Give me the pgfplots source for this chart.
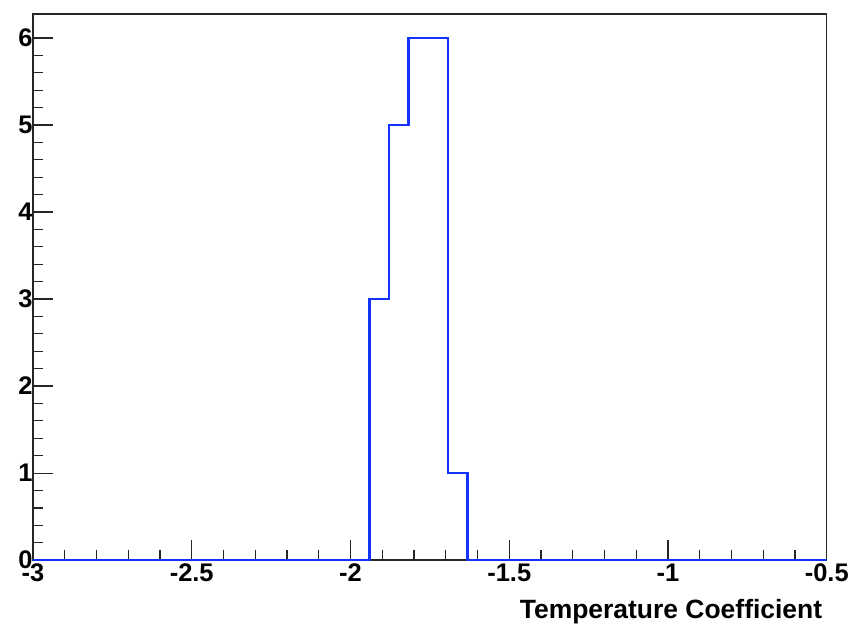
\documentclass[border=0pt]{standalone}
\usepackage{pgfplots}
\pgfplotsset{compat=1.18}
\usepackage{fontspec}
\setmainfont{Liberation Sans}
\begin{document}
\begin{tikzpicture}[x=1pt,y=1pt]
\begin{axis}[
  at={(0pt,0pt)}, anchor=south west,
  scale only axis, width=795pt, height=547pt,
  xmin=-3, xmax=-0.5, ymin=0, ymax=6.275,
  axis line style={line width=1.4pt, black!85},
  xtick={-3,-2.5,-2,-1.5,-1,-0.5},
  xticklabels={-3,-2.5,-2,-1.5,-1,-0.5},
  ytick={0,1,2,3,4,5,6},
  yticklabels={0,1,2,3,4,5,6},
  minor x tick num=4, minor y tick num=4,
  tick align=inside, xtick pos=bottom, ytick pos=left,
  major tick length=20pt, minor tick length=10pt,
  every tick/.style={black!85, line width=1.2pt},
  tick label style={font=\fontsize{25.5}{28}\selectfont\bfseries},
  xticklabel style={yshift=0pt},
  yticklabel style={xshift=3pt},
  xlabel={Temperature Coefficient},
  xlabel style={font=\fontsize{26.5}{29}\selectfont\bfseries, at={(axis description cs:1,0)}, anchor=north east, yshift=-36pt, xshift=-1pt},
]
\addplot[const plot mark left, color={rgb,255:red,20;green,50;blue,255}, line width=2.6pt] coordinates {
(-3,0) (-1.941,3) (-1.879,5) (-1.817,6) (-1.755,6) (-1.693,1) (-1.631,0) (-0.5,0)
};
\end{axis}
\path[use as bounding box] (-33pt,-66pt) rectangle (819pt,561pt);
\end{tikzpicture}
\end{document}
